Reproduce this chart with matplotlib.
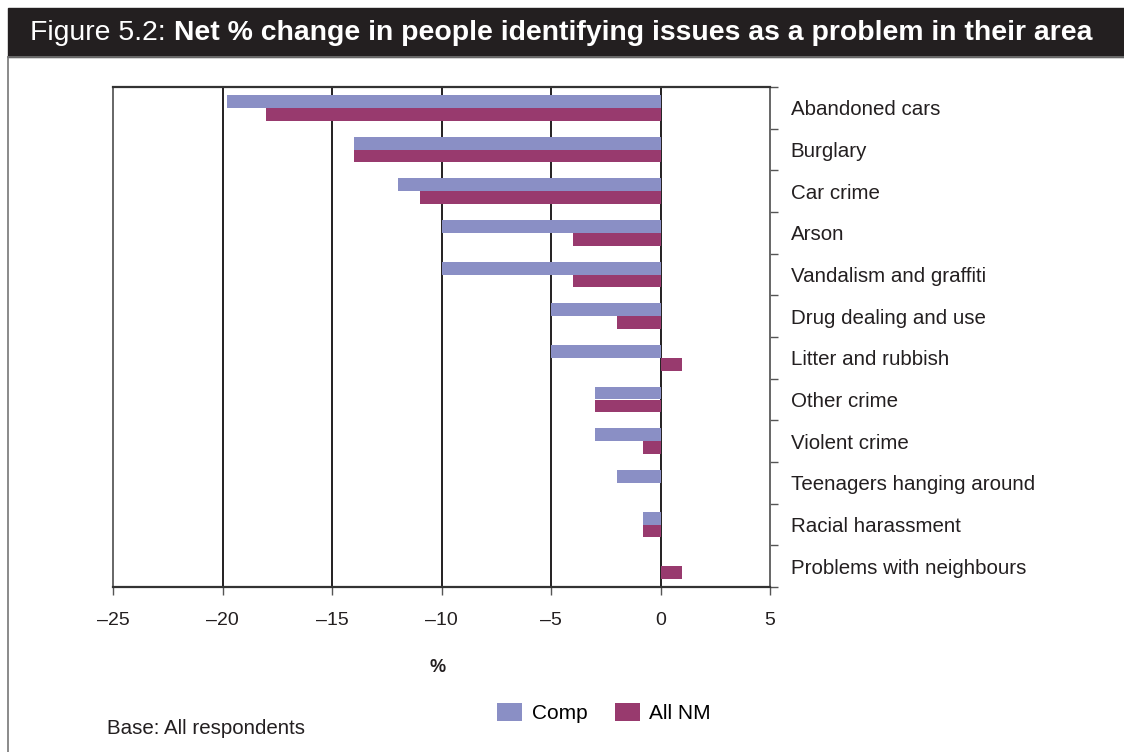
import numpy as np
import matplotlib.pyplot as plt
from matplotlib.lines import Line2D
from matplotlib.patches import Rectangle

# data
issues = ['Abandoned cars', 'Burglary', 'Car crime', 'Arson', 'Vandalism and graffiti',
          'Drug dealing and use', 'Litter and rubbish', 'Other crime', 'Violent crime',
          'Teenagers hanging around', 'Racial harassment', 'Problems with neighbours']
comp = [-19.8, -14, -12, -10, -10, -5, -5, -3, -3, -2, -0.8, 0]
all_nm = [-18, -14, -11, -4, -4, -2, 1, -3, -0.8, 0, -0.8, 1]
xticks = [-25, -20, -15, -10, -5, 0, 5]
xtick_labels = ['\u201325', '\u201320', '\u201315', '\u201310', '\u20135', '0', '5']

c_comp = '#8A8FC5'
c_nm = '#983A6E'
ink = '#231F20'

plt.rcParams['font.family'] = ['Liberation Sans', 'DejaVu Sans']

fig = plt.figure(figsize=(11.24, 7.52), dpi=100)
ax = fig.add_axes([113/1124, 1 - 587/752, (770-113)/1124, (587-87)/752])

y = np.arange(len(issues))
h = 0.31
ax.barh(y - h/2, comp, height=h, color=c_comp, zorder=3, label='Comp')
ax.barh(y + h/2, all_nm, height=h, color=c_nm, zorder=3, label='All NM')

ax.set_xlim(-25, 5)
ax.set_ylim(len(issues) - 0.5, -0.5)

for v in [-20, -15, -10, -5, 0]:
    ax.axvline(v, color=ink, lw=1.4, zorder=2)

ax.set_xticks(xticks)
ax.set_xticklabels(xtick_labels, fontsize=14, color=ink)
ax.tick_params(axis='x', direction='out', length=6, width=1, color='#555555', pad=12)

ax.yaxis.tick_right()
ax.set_yticks(y)
ax.set_yticklabels(issues, fontsize=14.8, color=ink)
ax.set_yticks(np.arange(-0.5, len(issues)), minor=True)
ax.tick_params(axis='y', which='major', length=0, pad=15)
ax.tick_params(axis='y', which='minor', direction='out', length=6, width=1, color='#555555')

for side in ['left', 'right']:
    ax.spines[side].set_color('#666666')
    ax.spines[side].set_linewidth(1.4)
for side in ['top', 'bottom']:
    ax.spines[side].set_color('#333333')
    ax.spines[side].set_linewidth(1.6)

fig.text(438/1124, 1 - 668/752, '%', fontsize=13, fontweight='bold', color=ink,
         ha='center', va='center')
fig.text(107/1124, 1 - 728/752, 'Base: All respondents', fontsize=14.8, color=ink,
         ha='left', va='center')

fig.legend(loc='center', bbox_to_anchor=(604/1124, 1 - 713/752), ncol=2, frameon=False,
           fontsize=15, handlelength=1.2, handleheight=1.0, columnspacing=1.3,
           handletextpad=0.45)

# title bar and frame
fig.patches.append(Rectangle((8/1124, 1 - 57/752), 1 - 8/1124, 49/752,
                             transform=fig.transFigure, color=ink, zorder=0))
fig.lines.append(Line2D([8/1124, 8/1124], [0, 1 - 57/752], transform=fig.transFigure,
                        color='#777777', lw=1.2))
fig.lines.append(Line2D([8/1124, 1], [1 - 57/752, 1 - 57/752], transform=fig.transFigure,
                        color='#777777', lw=1.2))

t1 = fig.text(30/1124, 1 - 33/752, 'Figure 5.2: ', fontsize=20.4, color='white',
              ha='left', va='center')
fig.canvas.draw()
bb = t1.get_window_extent()
x2 = fig.transFigure.inverted().transform((bb.x1, bb.y0))[0]
fig.text(x2, 1 - 33/752, 'Net % change in people identifying issues as a problem in their area',
         fontsize=20.4, fontweight='bold', color='white', ha='left', va='center')

fig.savefig('out.png', dpi=100)
